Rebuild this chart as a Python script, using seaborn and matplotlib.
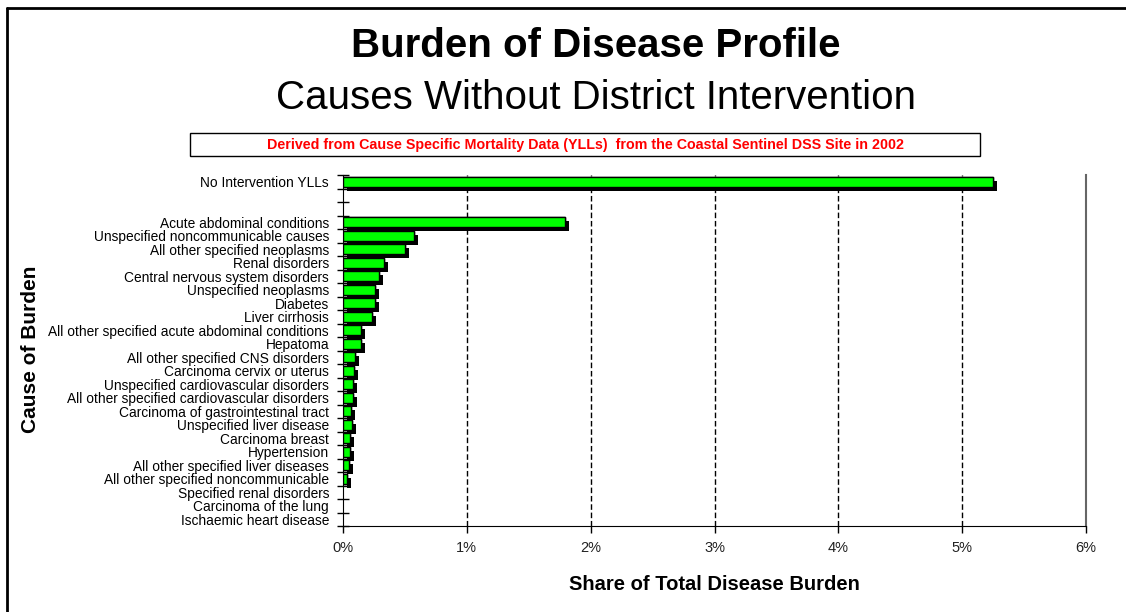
import numpy as np
import pandas as pd
import seaborn as sns
import matplotlib.pyplot as plt
import matplotlib.patheffects as pe
from matplotlib.lines import Line2D
from matplotlib.patches import Rectangle
from matplotlib.ticker import PercentFormatter

# data (share of total disease burden, %)
causes = ["No Intervention YLLs", " ", "  ",
          "Acute abdominal conditions", "Unspecified noncommunicable causes",
          "All other specified neoplasms", "Renal disorders",
          "Central nervous system disorders", "Unspecified neoplasms", "Diabetes",
          "Liver cirrhosis", "All other specified acute abdominal conditions",
          "Hepatoma", "All other specified CNS disorders",
          "Carcinoma cervix or uterus", "Unspecified cardiovascular disorders",
          "All other specified cardiovascular disorders",
          "Carcinoma of gastrointestinal tract", "Unspecified liver disease",
          "Carcinoma breast", "Hypertension", "All other specified liver diseases",
          "All other specified noncommunicable", "Specified renal disorders",
          "Carcinoma of the lung", "Ischaemic heart disease"]
shares = [5.25, np.nan, np.nan,
          1.79, 0.574, 0.503, 0.329, 0.288, 0.256, 0.256, 0.234, 0.143,
          0.143, 0.100, 0.089, 0.078, 0.084, 0.065, 0.070, 0.054, 0.054,
          0.046, 0.035, 0.0, 0.0, 0.0]

df = pd.DataFrame({"cause": causes, "share": shares})

sns.set_style("white")
plt.rcParams['font.family'] = ['Liberation Sans', 'DejaVu Sans']
plt.rcParams['text.color'] = 'black'
plt.rcParams['axes.labelcolor'] = 'black'
plt.rcParams['ytick.color'] = 'black'
plt.rcParams['xtick.color'] = 'black'

fig = plt.figure(figsize=(11.26, 6.12), dpi=100)
ax = fig.add_axes([0.3046, 0.1405, 0.66, 0.5735])

sns.barplot(data=df, x="share", y="cause", order=causes, orient="h",
            color="#00ff00", saturation=1, width=0.72, edgecolor="black",
            linewidth=1, ax=ax, zorder=3)
for p in ax.patches:
    if not np.isfinite(p.get_width()) or p.get_width() <= 0:
        p.set_visible(False)
    else:
        p.set_path_effects([pe.withSimplePatchShadow(offset=(2.8, -2.8),
                                                      shadow_rgbFace="black",
                                                      alpha=1.0),
                            pe.Normal()])

ax.set_xlim(0, 6)
ax.set_ylim(len(causes) - 0.5, -0.5)
ax.xaxis.set_major_formatter(PercentFormatter(decimals=0))
ax.set_xticks(range(7))

# dashed gridlines
for v in range(1, 6):
    ax.axvline(v, color="black", lw=1, ls=(0, (4, 2)), zorder=1)

# y ticks: labels at row centres, tick marks at row boundaries
ax.set_yticks(np.arange(len(causes)))
ax.set_yticklabels(causes, fontsize=9.9)
ax.set_yticks(np.arange(len(causes) + 1) - 0.5, minor=True)
ax.tick_params(axis="y", which="major", length=0, pad=10)
ax.tick_params(axis="y", which="minor", length=8, direction="inout",
               width=1, color="black", left=True)
ax.tick_params(axis="x", which="major", length=5, direction="out",
               width=1, color="black", bottom=True, labelsize=10.5,
               labelcolor="#222222", pad=6)

ax.spines["top"].set_visible(False)
ax.spines["left"].set_color("black")
ax.spines["bottom"].set_color("black")
ax.spines["right"].set_color("#666666")
ax.spines["right"].set_linewidth(1.5)

ax.set_xlabel("Share of Total Disease Burden", fontsize=14.5,
              fontweight="bold", labelpad=14)
ax.set_ylabel("")
fig.text(0.027, 0.43, "Cause of Burden", rotation=90, fontsize=15,
         fontweight="bold", ha="center", va="center")

# titles
fig.text(0.529, 0.925, "Burden of Disease Profile", fontsize=29,
         fontweight="bold", ha="center", va="center")
fig.text(0.529, 0.84, "Causes Without District Intervention", fontsize=29,
         ha="center", va="center")
fig.add_artist(Rectangle((190 / 1126, 1 - 156 / 612), 790 / 1126, 23 / 612,
                         transform=fig.transFigure, facecolor="white",
                         edgecolor="black", lw=1))
fig.text(585 / 1126, 1 - 144.5 / 612,
         "Derived from Cause Specific Mortality Data (YLLs)  from the Coastal Sentinel DSS Site in 2002",
         fontsize=10.3, fontweight="bold", color="#ff0000", ha="center",
         va="center")

# outer frame (top and left edges)
fig.add_artist(Line2D([7 / 1126, 1.0], [1 - 8 / 612, 1 - 8 / 612],
                      transform=fig.transFigure, color="black", lw=2))
fig.add_artist(Line2D([7 / 1126, 7 / 1126], [0, 1 - 8 / 612],
                      transform=fig.transFigure, color="black", lw=2))

fig.savefig("out.png", dpi=100)
